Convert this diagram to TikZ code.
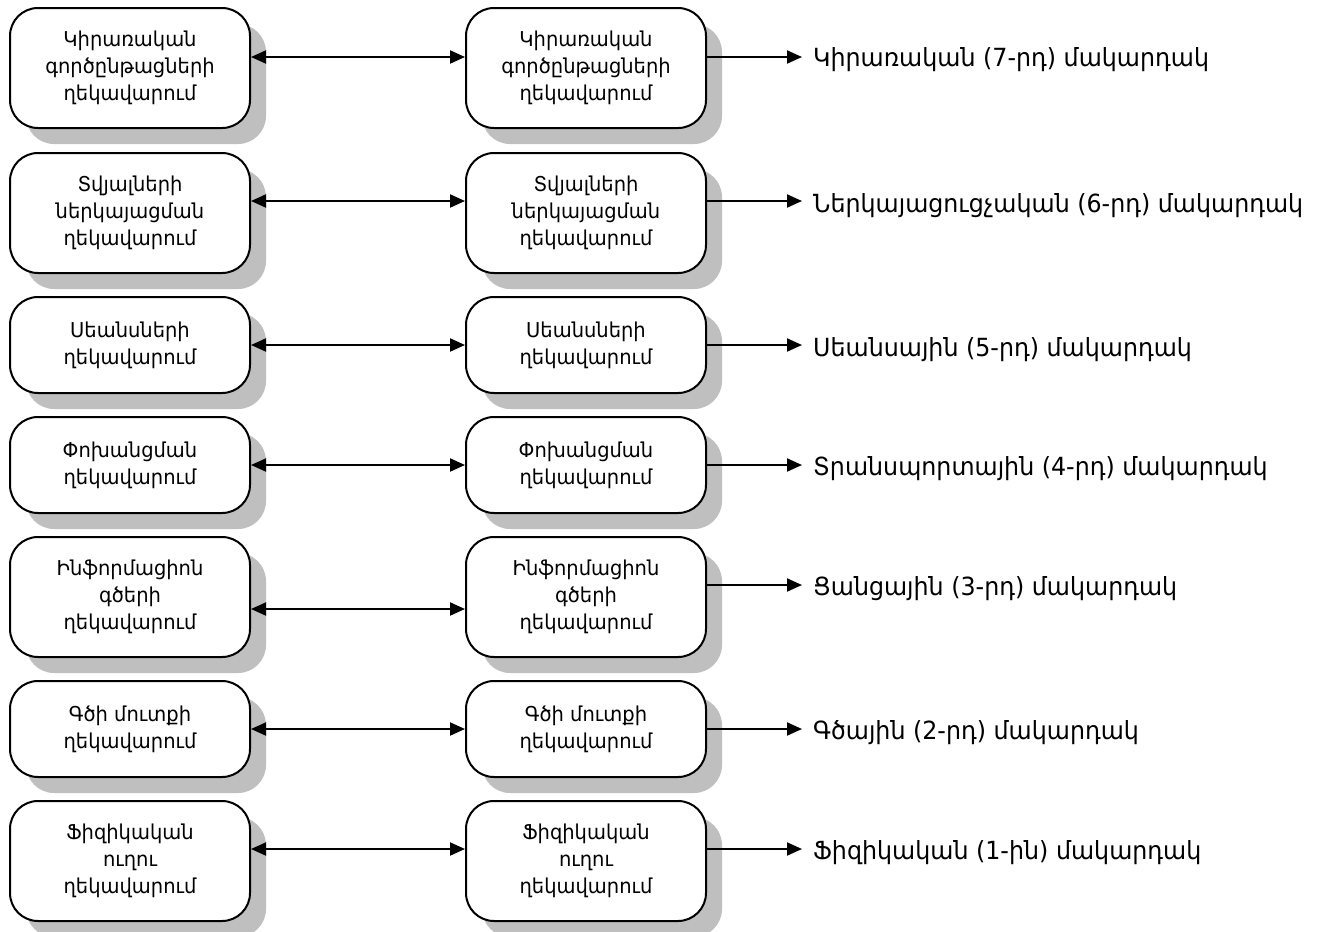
\documentclass[tikz,border=0pt]{standalone}
\usepackage{fontspec}
\setmainfont[FakeStretch=0.95]{DejaVu Sans}
\usetikzlibrary{arrows.meta,shadows,calc}

\begin{document}
\begin{tikzpicture}[x=1pt,y=-1pt,
  layerbox/.style={draw=black, line width=2pt, fill=white, rounded corners=28pt,
    minimum width=240pt, align=center, inner sep=0pt,
    font=\fontsize{20.5}{27}\selectfont,
    drop shadow={shadow xshift=16pt, shadow yshift=-16pt, fill=black!25, opacity=1}},
  tallbox/.style={minimum height=120pt},
  shortbox/.style={minimum height=96pt},
  link/.style={line width=2pt, {Triangle[length=15pt,width=13pt]}-{Triangle[length=15pt,width=13pt]}},
  outarrow/.style={line width=2pt, -{Triangle[length=15pt,width=13pt]}},
  levellabel/.style={anchor=west, inner sep=0pt, font=\fontsize{25}{30}\selectfont}
]
\useasboundingbox (0,0) rectangle (1318,932);

% left column: local protocol entities
\node[layerbox,tallbox]  (L1) at (130,68)  {Կիրառական\\գործընթացների\\ղեկավարում};
\node[layerbox,tallbox]  (L2) at (130,213) {Տվյալների\\ներկայացման\\ղեկավարում};
\node[layerbox,shortbox] (L3) at (130,345) {Սեանսների\\ղեկավարում};
\node[layerbox,shortbox] (L4) at (130,465) {Փոխանցման\\ղեկավարում};
\node[layerbox,tallbox]  (L5) at (130,597) {Ինֆորմացիոն\\գծերի\\ղեկավարում};
\node[layerbox,shortbox] (L6) at (130,729) {Գծի մուտքի\\ղեկավարում};
\node[layerbox,tallbox]  (L7) at (130,861) {Ֆիզիկական\\ուղու\\ղեկավարում};

% right column: peer protocol entities
\node[layerbox,tallbox]  (M1) at (586,68)  {Կիրառական\\գործընթացների\\ղեկավարում};
\node[layerbox,tallbox]  (M2) at (586,213) {Տվյալների\\ներկայացման\\ղեկավարում};
\node[layerbox,shortbox] (M3) at (586,345) {Սեանսների\\ղեկավարում};
\node[layerbox,shortbox] (M4) at (586,465) {Փոխանցման\\ղեկավարում};
\node[layerbox,tallbox]  (M5) at (586,597) {Ինֆորմացիոն\\գծերի\\ղեկավարում};
\node[layerbox,shortbox] (M6) at (586,729) {Գծի մուտքի\\ղեկավարում};
\node[layerbox,tallbox]  (M7) at (586,861) {Ֆիզիկական\\ուղու\\ղեկավարում};

% level names
\node[levellabel] (R1) at (813,60)  {Կիրառական (7-րդ) մակարդակ};
\node[levellabel] (R2) at (813,206) {Ներկայացուցչական (6-րդ) մակարդակ};
\node[levellabel] (R3) at (813,350) {Սեանսային (5-րդ) մակարդակ};
\node[levellabel] (R4) at (813,469) {Տրանսպորտային (4-րդ) մակարդակ};
\node[levellabel] (R5) at (813,589) {Ցանցային (3-րդ) մակարդակ};
\node[levellabel] (R6) at (813,733) {Գծային (2-րդ) մակարդակ};
\node[levellabel] (R7) at (813,853) {Ֆիզիկական (1-ին) մակարդակ};

% peer-to-peer links
\draw[link] ($(L1.east)+(0,-11)$) -- ($(M1.west)+(0,-11)$);
\draw[link] ($(L2.east)+(0,-12)$) -- ($(M2.west)+(0,-12)$);
\draw[link] (L3.east) -- (M3.west);
\draw[link] (L4.east) -- (M4.west);
\draw[link] ($(L5.east)+(0,12)$) -- ($(M5.west)+(0,12)$);
\draw[link] (L6.east) -- (M6.west);
\draw[link] ($(L7.east)+(0,-12)$) -- ($(M7.west)+(0,-12)$);

% arrows to the level names
\draw[outarrow] ($(M1.east)+(0,-11)$) -- ($(M1.east -| R1.west)+(-11,-11)$);
\draw[outarrow] ($(M2.east)+(0,-12)$) -- ($(M2.east -| R2.west)+(-11,-12)$);
\draw[outarrow] (M3.east) -- ($(M3.east -| R3.west)+(-11,0)$);
\draw[outarrow] (M4.east) -- ($(M4.east -| R4.west)+(-11,0)$);
\draw[outarrow] ($(M5.east)+(0,-12)$) -- ($(M5.east -| R5.west)+(-11,-12)$);
\draw[outarrow] (M6.east) -- ($(M6.east -| R6.west)+(-11,0)$);
\draw[outarrow] ($(M7.east)+(0,-12)$) -- ($(M7.east -| R7.west)+(-11,-12)$);
\end{tikzpicture}
\end{document}
